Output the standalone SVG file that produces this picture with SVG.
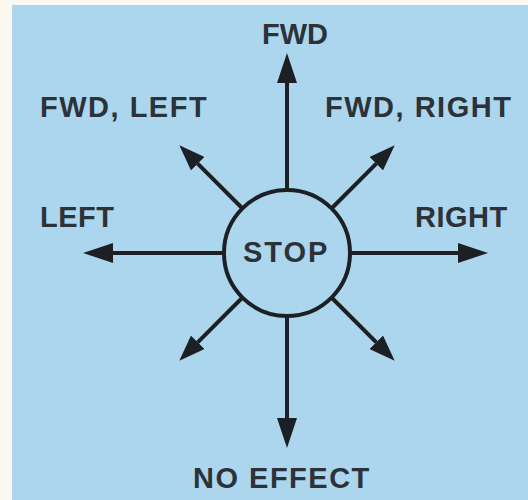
<svg xmlns="http://www.w3.org/2000/svg" width="528" height="500" viewBox="0 0 528 500">
  <style>
    .lbl { font-family: "Liberation Sans", Arial, sans-serif; font-weight: bold; font-size: 29px; fill: #2c3237; letter-spacing: 1.5px; }
    .shaft { stroke: #1c2024; stroke-width: 4; fill: none; }
  </style>
  <defs>
    <marker id="head" markerUnits="userSpaceOnUse" markerWidth="30" markerHeight="20" viewBox="0 0 30 20" refX="0" refY="10" orient="auto">
      <path d="M0,0 L30,10 L0,20 Z" fill="#1c2024"/>
    </marker>
    <marker id="headSmall" markerUnits="userSpaceOnUse" markerWidth="26" markerHeight="19" viewBox="0 0 26 19" refX="0" refY="9.5" orient="auto">
      <path d="M0,0 L26,9.5 L0,19 Z" fill="#1c2024"/>
    </marker>
  </defs>

  <!-- paper margin and blue panel -->
  <rect x="0" y="0" width="528" height="500" fill="#fbf9ef"/>
  <rect x="12" y="5" width="516" height="495" fill="#abd6ee"/>

  <!-- connectors: eight direction arrows out of the STOP circle -->
  <g id="connectors">
    <line class="shaft" x1="287" y1="190" x2="287" y2="83" marker-end="url(#head)"/>
    <line class="shaft" x1="287" y1="316" x2="287" y2="418" marker-end="url(#head)"/>
    <line class="shaft" x1="224" y1="253" x2="113" y2="253" marker-end="url(#head)"/>
    <line class="shaft" x1="350" y1="253" x2="458" y2="253" marker-end="url(#head)"/>
    <line class="shaft" x1="242.5" y1="208.5" x2="197.7" y2="163.7" marker-end="url(#headSmall)"/>
    <line class="shaft" x1="331.5" y1="208.5" x2="376.3" y2="163.7" marker-end="url(#headSmall)"/>
    <line class="shaft" x1="242.5" y1="297.5" x2="197.7" y2="342.3" marker-end="url(#headSmall)"/>
    <line class="shaft" x1="331.5" y1="297.5" x2="376.3" y2="342.3" marker-end="url(#headSmall)"/>
  </g>

  <g id="stop">
    <circle cx="287" cy="253" r="63" fill="#abd6ee" stroke="#1c2024" stroke-width="4"/>
    <text class="lbl" x="243" y="262" style="letter-spacing:2px">STOP</text>
  </g>
  <g id="fwd"><text class="lbl" x="262" y="44" style="letter-spacing:0">FWD</text></g>
  <g id="fwd-left"><text class="lbl" x="40" y="117">FWD, LEFT</text></g>
  <g id="fwd-right"><text class="lbl" x="325" y="117">FWD, RIGHT</text></g>
  <g id="left"><text class="lbl" x="40" y="227" style="letter-spacing:0.5px">LEFT</text></g>
  <g id="right"><text class="lbl" x="415" y="227" style="letter-spacing:0.5px">RIGHT</text></g>
  <g id="no-effect"><text class="lbl" x="193" y="488">NO EFFECT</text></g>
</svg>
